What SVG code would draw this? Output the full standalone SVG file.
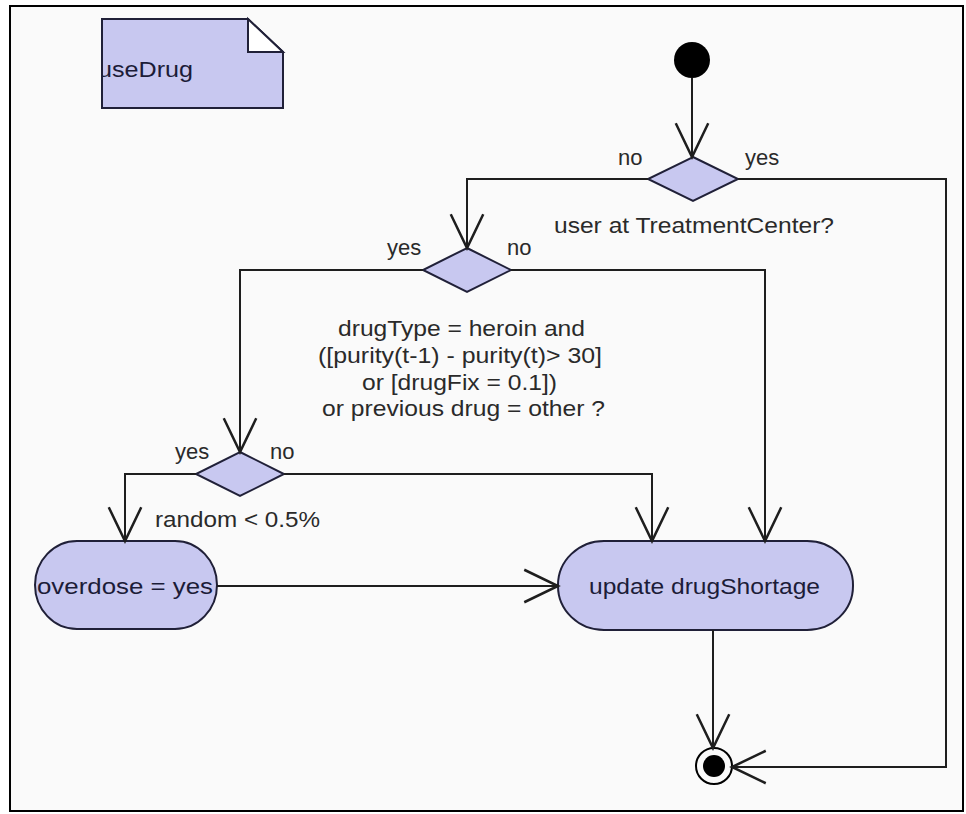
<svg xmlns="http://www.w3.org/2000/svg" width="966" height="814" viewBox="0 0 966 814">
<style>
.t{font-family:"Liberation Sans",Arial,sans-serif;font-size:22px;fill:#2a2a2a}
.nt{font-family:"Liberation Sans",Arial,sans-serif;font-size:22px;fill:#1c1c38}
.node{fill:#c8c8f0;stroke:#202038;stroke-width:2}
.ln{fill:none;stroke:#1e1e1e;stroke-width:2}
</style>
<defs>
<marker id="arr" markerUnits="userSpaceOnUse" markerWidth="40" markerHeight="40" refX="0" refY="0" viewBox="-30 -15 32 30" orient="auto" overflow="visible">
<path d="M-27,-13 L0,0 L-27,13" fill="none" stroke="#1e1e1e" stroke-width="2"/>
</marker>
<clipPath id="noteclip"><rect x="102" y="19" width="182" height="90"/></clipPath>
</defs>
<rect x="0" y="0" width="966" height="814" fill="#ffffff"/>
<rect x="10" y="6" width="953" height="805" fill="#fafafa" stroke="#000" stroke-width="2"/>

<g id="note">
<path class="node" d="M102,19 L248,19 L283,52 L283,108 L102,108 Z"/>
<path d="M248,19 L248,52 L283,52 Z" fill="#ffffff" stroke="#202038" stroke-width="2"/>
<text class="nt" x="98" y="77" textLength="95" lengthAdjust="spacingAndGlyphs" clip-path="url(#noteclip)">useDrug</text>
</g>

<g id="start"><circle cx="692" cy="60" r="18" fill="#000"/></g>

<g id="decision1">
<polygon class="node" points="693,157 738,179 693,201 648,179"/>
<text class="t" x="618" y="165">no</text>
<text class="t" x="745" y="165">yes</text>
<text class="t" x="554" y="233" textLength="280" lengthAdjust="spacingAndGlyphs">user at TreatmentCenter?</text>
</g>

<g id="decision2">
<polygon class="node" points="467,248 511,270 467,292 423,270"/>
<text class="t" x="387" y="255">yes</text>
<text class="t" x="507" y="255">no</text>
<text class="t" x="338" y="336" textLength="247" lengthAdjust="spacingAndGlyphs">drugType = heroin and</text>
<text class="t" x="318" y="363" textLength="284" lengthAdjust="spacingAndGlyphs">([purity(t-1) - purity(t)&gt; 30]</text>
<text class="t" x="362" y="390" textLength="195" lengthAdjust="spacingAndGlyphs">or [drugFix = 0.1])</text>
<text class="t" x="322" y="416" textLength="283" lengthAdjust="spacingAndGlyphs">or previous drug = other ?</text>
</g>

<g id="decision3">
<polygon class="node" points="240,452 284,474 240,496 196,474"/>
<text class="t" x="175" y="459">yes</text>
<text class="t" x="270" y="459">no</text>
<text class="t" x="155" y="527" textLength="165" lengthAdjust="spacingAndGlyphs">random &lt; 0.5%</text>
</g>

<g id="overdose">
<rect class="node" x="35" y="541" width="182" height="88" rx="42" ry="44"/>
<text class="nt" x="37" y="594" textLength="176" lengthAdjust="spacingAndGlyphs">overdose = yes</text>
</g>

<g id="update">
<rect class="node" x="558" y="541" width="295" height="89" rx="46" ry="44"/>
<text class="nt" x="589" y="594" textLength="231" lengthAdjust="spacingAndGlyphs">update drugShortage</text>
</g>

<g id="end">
<circle cx="714" cy="766" r="18" fill="#fafafa" stroke="#000" stroke-width="2"/>
<circle cx="714" cy="766" r="11" fill="#000"/>
</g>

<g id="connectors">
<path class="ln" d="M692,78 L692,157" marker-end="url(#arr)"/>
<path class="ln" d="M648,179 L467,179 L467,248" marker-end="url(#arr)"/>
<path class="ln" d="M738,179 L946,179 L946,767 L732,767" marker-end="url(#arr)"/>
<path class="ln" d="M423,270 L240,270 L240,452" marker-end="url(#arr)"/>
<path class="ln" d="M511,270 L765,270 L765,541" marker-end="url(#arr)"/>
<path class="ln" d="M196,474 L125,474 L125,541" marker-end="url(#arr)"/>
<path class="ln" d="M284,474 L652,474 L652,541" marker-end="url(#arr)"/>
<path class="ln" d="M217,586 L558,586" marker-end="url(#arr)"/>
<path class="ln" d="M713,630 L713,748" marker-end="url(#arr)"/>
</g>
</svg>
